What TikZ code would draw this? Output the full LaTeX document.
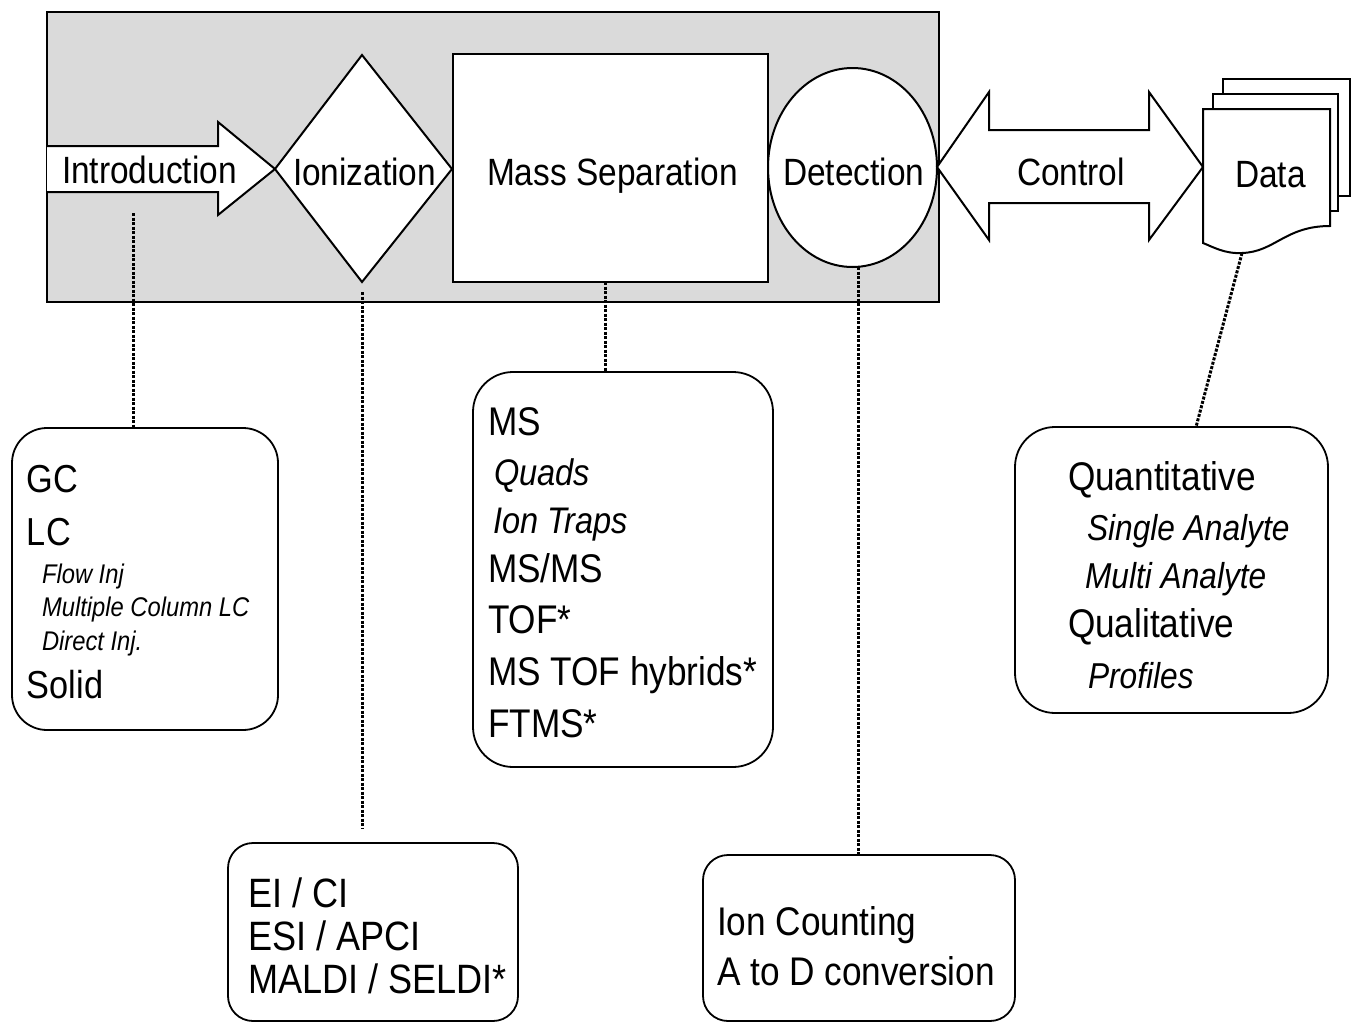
\documentclass[tikz,border=0pt]{standalone}
\usepackage{fontspec}
\setmainfont{Liberation Sans}[FakeStretch=0.88]
\definecolor{panel}{RGB}{218,218,218}
\begin{document}
\begin{tikzpicture}[x=1pt,y=-1pt,
  every node/.style={inner sep=0pt,outer sep=0pt},
  shp/.style={draw=black,line width=2pt,fill=white,line join=miter},
  rbox/.style={draw=black,line width=1.8pt,fill=white,rounded corners=#1},
  dotline/.style={line width=3pt,dash pattern=on 3pt off 1.5pt},
  lab/.style={anchor=base west,font=\fontsize{38}{40}\selectfont},
  itm/.style={anchor=base west,font=\fontsize{#1}{#1}\selectfont},
  iti/.style={anchor=base west,font=\fontsize{#1}{#1}\selectfont\itshape}
]
\useasboundingbox (0,0) rectangle (1355,1023);

% grey panel
\node[draw=black,line width=2pt,fill=panel,minimum width=892pt,minimum height=290pt] (panel) at (493,157) {};

% Introduction arrow
\draw[shp] (47,146) -- (218,146) -- (218,122) -- (275,169) -- (218,215) -- (218,192) -- (47,192);
\coordinate (introfoot) at (133,213);
% Ionization diamond
\draw[shp] (275,169) -- (362,55) -- (452,169) -- (362,282) -- cycle;
\coordinate (ionfoot) at (362,292);
% Mass separation rectangle
\node[shp,minimum width=315pt,minimum height=228pt] (ms) at (610.5,168) {};
% Detection ellipse
\draw[shp] (852.5,167.5) ellipse [x radius=84.5, y radius=99.5];
\coordinate (detfoot) at (858,267);

% Control double arrow
\draw[shp] (937,167) -- (989,92) -- (989,130) -- (1149,130) -- (1149,92) -- (1203,167)
  -- (1149,240) -- (1149,203) -- (989,203) -- (989,240) -- cycle;

% Data document stack
\draw[shp] (1223,79) rectangle (1350,196);
\draw[shp] (1213,94) rectangle (1338,211);
\draw[shp] (1203,109) -- (1330,109) -- (1330,226)
  .. controls (1285,226) and (1275,252) .. (1242,253)
  .. controls (1225,254) and (1213,247) .. (1203,243) -- cycle;
\coordinate (datafoot) at (1242,253);

% labels in the panel row
\node[lab] (lintro) at (62,183) {Introduction};
\node[lab] (lion) at (293,185) {Ionization};
\node[lab] (lms) at (487,185) {Mass Separation};
\node[lab] (ldet) at (783,185) {Detection};
\node[lab] (lctl) at (1017,185) {Control};
\node[lab] (ldata) at (1235,187) {Data};

% rounded boxes
\node[rbox=35pt,minimum width=266pt,minimum height=302pt] (bintro) at (145,579) {};
\node[rbox=40pt,minimum width=300pt,minimum height=395pt] (bms) at (623,569.5) {};
\node[rbox=40pt,minimum width=313pt,minimum height=286pt] (bdata) at (1171.5,570) {};
\node[rbox=25pt,minimum width=290pt,minimum height=178pt] (bion) at (373,932) {};
\node[rbox=25pt,minimum width=312pt,minimum height=166pt] (bdet) at (859,938) {};

% dotted connectors
\coordinate (msx) at (605,0);
\coordinate (datax) at (1196,0);
\draw[dotline] (introfoot) -- (introfoot |- bintro.north);
\draw[dotline,shorten >=15pt] (ionfoot) -- (ionfoot |- bion.north);
\draw[dotline] (ms.south -| msx) -- (bms.north -| msx);
\draw[dotline] (detfoot) -- (detfoot |- bdet.north);
\draw[dotline] (datafoot) -- (bdata.north -| datax);

% Introduction box text
\node[itm=39] (t1) at (27,492) {GC};
\node[itm=39] (t2) at (27,545) {LC};
\node[iti=27] (t3) at (42,583) {Flow Inj};
\node[iti=27] (t4) at (42,616) {Multiple Column LC};
\node[iti=27] (t5) at (42,650) {Direct Inj.};
\node[itm=39] (t6) at (27,698) {Solid};

% Mass separation box text
\node[itm=40] (m1) at (488,435) {MS};
\node[iti=37] (m2) at (494,485) {Quads};
\node[iti=37] (m3) at (493,533) {Ion Traps};
\node[itm=40] (m4) at (488,582) {MS/MS};
\node[itm=40] (m5) at (488,633) {TOF*};
\node[itm=40] (m6) at (488,685) {MS TOF hybrids*};
\node[itm=40] (m7) at (488,737) {FTMS*};

% Data box text
\node[itm=40] (d1) at (1068,490) {Quantitative};
\node[iti=36] (d2) at (1087,540) {Single Analyte};
\node[iti=36] (d3) at (1085,588) {Multi Analyte};
\node[itm=40] (d4) at (1068,637) {Qualitative};
\node[iti=36] (d5) at (1088,688) {Profiles};

% Ionization box text
\node[itm=41] (i1) at (248,907) {EI / CI};
\node[itm=41] (i2) at (248,950) {ESI / APCI};
\node[itm=41] (i3) at (248,993) {MALDI / SELDI*};

% Detection box text
\node[itm=40] (e1) at (717,935) {Ion Counting};
\node[itm=40] (e2) at (717,985) {A to D conversion};
\end{tikzpicture}
\end{document}
